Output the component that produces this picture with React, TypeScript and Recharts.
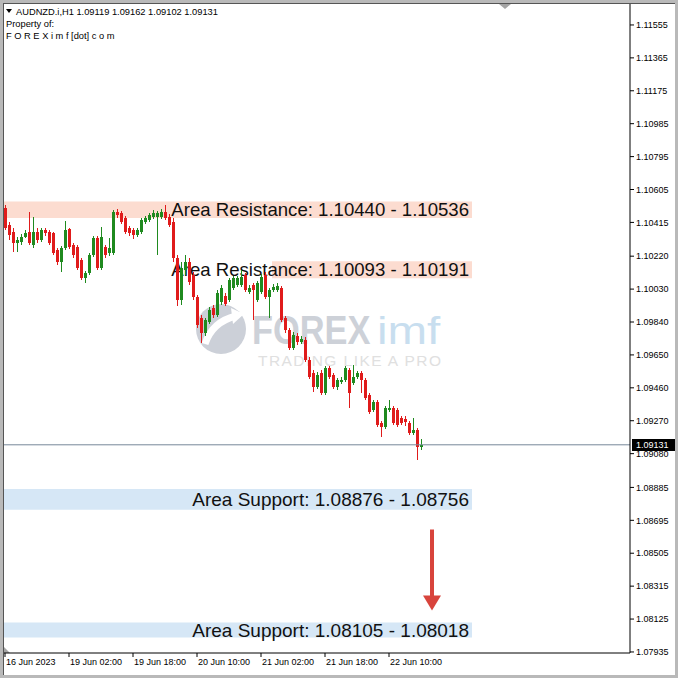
import React from "react";
import {
  ComposedChart,
  Bar,
  XAxis,
  YAxis,
  ReferenceArea,
  ReferenceLine,
} from "recharts";

// AUDNZD H1, one entry per hourly bar
const barOpen = [
  1.105, 1.10402, 1.10361, 1.10298, 1.10304, 1.10333, 1.10361, 1.10286, 1.10361, 1.10315,
  1.10373, 1.10361, 1.10356, 1.10258, 1.10188, 1.10269, 1.10379, 1.10286, 1.10275, 1.102,
  1.10096, 1.10125, 1.10229, 1.10327, 1.10154, 1.10275, 1.1024, 1.1024, 1.10477, 1.10471,
  1.10442, 1.10384, 1.10373, 1.10344, 1.10361, 1.10419, 1.10431, 1.10448, 1.10448, 1.10448,
  1.10477, 1.10448, 1.10419, 1.10211, 1.09969, 1.10142, 1.10188, 1.10113, 1.09986, 1.09865,
  1.09779, 1.09842, 1.09923, 1.09882, 1.09957, 1.09992, 1.09969, 1.10038, 1.10056, 1.10056,
  1.10113, 1.10015, 1.10056, 1.09969, 1.10015, 1.10113, 1.09986, 1.10027, 1.10027, 1.10038,
  1.09865, 1.09796, 1.09692, 1.09761, 1.09727, 1.09738, 1.09623, 1.09548, 1.09467, 1.09548,
  1.09432, 1.09577, 1.09536, 1.09467, 1.09496, 1.09507, 1.09565, 1.0949, 1.09525, 1.09548,
  1.09507, 1.09421, 1.09334, 1.0938, 1.09259, 1.09236, 1.09334, 1.09346, 1.09334, 1.09288,
  1.09282, 1.09259, 1.09202, 1.09219, 1.09119,
];
const barHigh = [
  1.10517, 1.10419, 1.10384, 1.10333, 1.1035, 1.10373, 1.10477, 1.10448, 1.10384, 1.10384,
  1.10384, 1.10373, 1.10361, 1.10269, 1.10281, 1.10425, 1.10384, 1.10298, 1.10286, 1.10211,
  1.10136, 1.1024, 1.10338, 1.10338, 1.1039, 1.10286, 1.10327, 1.10488, 1.10494, 1.10483,
  1.10454, 1.10396, 1.10384, 1.10384, 1.10442, 1.10454, 1.10471, 1.10488, 1.10483, 1.10494,
  1.10517, 1.10465, 1.10442, 1.10229, 1.10188, 1.10229, 1.10211, 1.10131, 1.09998, 1.09882,
  1.09865, 1.09929, 1.0994, 1.10027, 1.10056, 1.10009, 1.10096, 1.10107, 1.10107, 1.10142,
  1.10125, 1.10056, 1.10067, 1.10079, 1.10119, 1.10131, 1.10038, 1.10061, 1.10067, 1.1005,
  1.09877, 1.09807, 1.09784, 1.09779, 1.09761, 1.09755, 1.0964, 1.09565, 1.09554, 1.09565,
  1.09588, 1.09588, 1.09548, 1.09519, 1.09525, 1.09588, 1.09577, 1.09594, 1.09559, 1.09559,
  1.09519, 1.09432, 1.09392, 1.09392, 1.09271, 1.09357, 1.09392, 1.09357, 1.09346, 1.093,
  1.09296, 1.09271, 1.09288, 1.0923, 1.09162,
];
const barLow = [
  1.10373, 1.10315, 1.10246, 1.10246, 1.10286, 1.10327, 1.10286, 1.10269, 1.10298, 1.10304,
  1.10338, 1.10286, 1.10229, 1.10171, 1.10131, 1.10258, 1.10263, 1.10211, 1.10142, 1.10084,
  1.10067, 1.10113, 1.10217, 1.10142, 1.10142, 1.10211, 1.10223, 1.10229, 1.10442, 1.10408,
  1.1035, 1.10338, 1.10321, 1.10333, 1.1035, 1.10408, 1.10419, 1.10436, 1.10229, 1.10436,
  1.10431, 1.1039, 1.10188, 1.09934, 1.0994, 1.10113, 1.10056, 1.09969, 1.09807, 1.09721,
  1.09761, 1.0983, 1.09865, 1.09871, 1.0994, 1.09934, 1.09957, 1.10027, 1.10044, 1.10044,
  1.10015, 1.10004, 1.09854, 1.09957, 1.10004, 1.09975, 1.09865, 1.10015, 1.10015, 1.09842,
  1.09779, 1.09681, 1.09681, 1.09709, 1.09715, 1.09611, 1.09513, 1.09438, 1.09455, 1.09421,
  1.09421, 1.09513, 1.09455, 1.0945, 1.09484, 1.09496, 1.09346, 1.09479, 1.09513, 1.09432,
  1.09392, 1.09311, 1.09323, 1.09236, 1.09178, 1.09225, 1.09323, 1.09248, 1.09236, 1.09248,
  1.09242, 1.0919, 1.0919, 1.09046, 1.09102,
];
const barClose = [
  1.10384, 1.10344, 1.10298, 1.10315, 1.10333, 1.10356, 1.10298, 1.10361, 1.10315, 1.10373,
  1.10356, 1.10298, 1.1024, 1.10188, 1.10269, 1.10373, 1.10275, 1.10229, 1.10154, 1.10096,
  1.10125, 1.10229, 1.10327, 1.10154, 1.10333, 1.10229, 1.10269, 1.10477, 1.10459, 1.10419,
  1.10361, 1.10356, 1.10344, 1.10373, 1.10431, 1.10442, 1.10459, 1.10471, 1.10471, 1.10477,
  1.10442, 1.10402, 1.10211, 1.09969, 1.10154, 1.10188, 1.10073, 1.09986, 1.09825, 1.09779,
  1.09854, 1.09911, 1.09882, 1.10009, 1.10038, 1.09946, 1.10084, 1.10096, 1.10096, 1.10102,
  1.10027, 1.10038, 1.10027, 1.10067, 1.10102, 1.09986, 1.10027, 1.10044, 1.1005, 1.09854,
  1.09796, 1.09692, 1.09767, 1.09727, 1.09744, 1.09623, 1.09525, 1.09467, 1.09536, 1.09432,
  1.09577, 1.09525, 1.09467, 1.09507, 1.09507, 1.09577, 1.09432, 1.09525, 1.09548, 1.09507,
  1.09404, 1.09323, 1.0938, 1.09248, 1.09236, 1.09346, 1.09346, 1.09259, 1.09248, 1.09259,
  1.09262, 1.09202, 1.09219, 1.09121, 1.09131,
];

const timeTickBars = [0, 16, 32, 48, 64, 80, 96];
const timeTickLabels = [
  "16 Jun 2023",
  "19 Jun 02:00",
  "19 Jun 18:00",
  "20 Jun 10:00",
  "21 Jun 02:00",
  "21 Jun 18:00",
  "22 Jun 10:00",
];

const priceTicks = [
  1.11555, 1.11365, 1.11175, 1.10985, 1.10795, 1.10605, 1.10415, 1.1022, 1.1003, 1.0984,
  1.0965, 1.0946, 1.0927, 1.0908, 1.08885, 1.08695, 1.08505, 1.08315, 1.08125, 1.07935,
];

const zoneLow = [1.1044, 1.10093, 1.08756, 1.08018];
const zoneHigh = [1.10536, 1.10191, 1.08876, 1.08105];
const zoneStartBar = [-0.25, 66.75, -0.25, -0.25];
const zoneEndBar = 116.75;
const zoneIsSupport = [false, false, true, true];
const zoneTitles = [
  "Area Resistance: 1.10440 - 1.10536",
  "Area Resistance: 1.10093 - 1.10191",
  "Area Support: 1.08876 - 1.08756",
  "Area Support: 1.08105 - 1.08018",
];

const symbolName = "AUDNZD.i,H1";
const lastBar = ["1.09119", "1.09162", "1.09102", "1.09131"];
const bidPrice = 1.09131;

const arrowBar = 106.75;
const arrowFrom = 1.08642;
const arrowTo = 1.08175;

const FONT = "'Liberation Sans', Arial, sans-serif";
const BULL = "#1f8a1f";
const BEAR = "#e01b1b";
const ARROW = "#d8443c";

const Candle = (props: any) => {
  const { x, y, width, height, payload } = props;
  if (!payload || !Number.isFinite(x) || !Number.isFinite(y)) return null;
  const top = Math.min(y, y + height);
  const span = Math.abs(height);
  const range = payload.high - payload.low;
  const k = range > 0 ? span / range : 0;
  const toPx = (v: number) => top + (payload.high - v) * k;
  const up = payload.close >= payload.open;
  const color = up ? BULL : BEAR;
  const cx = Math.round(x + width / 2);
  const bTop = Math.round(toPx(Math.max(payload.open, payload.close)));
  const bBot = Math.round(toPx(Math.min(payload.open, payload.close)));
  return (
    <g>
      <line
        x1={cx + 0.5}
        x2={cx + 0.5}
        y1={Math.round(top)}
        y2={Math.round(top + span)}
        stroke={color}
        strokeWidth={1}
      />
      <rect x={cx - 1} y={bTop} width={3} height={Math.max(1, bBot - bTop)} fill={color} />
    </g>
  );
};

const ZoneLabel = ({ viewBox, text, size }: any) => {
  if (!viewBox) return null;
  const { x, y, width, height } = viewBox;
  return (
    <text
      x={x + width - 3}
      y={y + height / 2}
      dy="0.36em"
      textAnchor="end"
      fontSize={size}
      fontFamily={FONT}
      fill="#111"
    >
      {text}
    </text>
  );
};

const BidTag = ({ viewBox }: any) => {
  if (!viewBox) return null;
  const { x, y, width } = viewBox;
  const left = x + width + 2;
  return (
    <g>
      <rect x={left} y={Math.round(y) - 6} width={43} height={12} fill="#000" />
      <text x={left + 4} y={y} dy="0.36em" fill="#fff" fontSize={9} fontFamily={FONT}>
        {bidPrice.toFixed(5)}
      </text>
    </g>
  );
};

const DownArrow = (props: any) => {
  const { x1, y1, x2, y2 } = props;
  if (![x1, y1, x2, y2].every(Number.isFinite)) return null;
  const head = 15;
  return (
    <g>
      <line x1={x1} y1={y1} x2={x2} y2={y2 - head + 1} stroke={ARROW} strokeWidth={4} />
      <polygon
        points={`${x2 - 9},${y2 - head} ${x2 + 9},${y2 - head} ${x2},${y2}`}
        fill={ARROW}
      />
    </g>
  );
};

const TimeTick = (props: any) => {
  const { x, y, payload } = props;
  const i = timeTickBars.indexOf(payload.value);
  return (
    <text x={x + 1} y={y} dy="0.71em" textAnchor="start" fontSize={9} fontFamily={FONT} fill="#000">
      {i >= 0 ? timeTickLabels[i] : ""}
    </text>
  );
};

function Backdrop() {
  return (
    <svg width={678} height={678} style={{ position: "absolute", left: 0, top: 0 }}>
      <rect x={0} y={0} width={678} height={678} fill="#fff" />
      {/* window frame */}
      <rect x={0} y={0} width={678} height={3} fill="#b9b9b9" />
      <rect x={0} y={0} width={3} height={678} fill="#b9b9b9" />
      <rect x={675} y={0} width={3} height={678} fill="#b9b9b9" />
      <rect x={0} y={675} width={678} height={3} fill="#b9b9b9" />
      <line x1={3} y1={3.5} x2={675} y2={3.5} stroke="#555" />
      <line x1={3.5} y1={3} x2={3.5} y2={675} stroke="#555" />
      <polygon points="499,4 511,4 505,9" fill="#a4a4a4" />
      <polygon points="4,647 4,653 10,653" fill="#a4a4a4" />

      {/* watermark */}
      <g>
        <circle cx={221} cy={329} r={25} fill="#ccd0d8" />
        <path d="M205,344 Q212,322 236,316" stroke="#fff" strokeWidth={7} fill="none" />
        <polygon points="231,308 244,314 233,324" fill="#fff" />
        <text
          transform="translate(252,344) scale(0.86,1)"
          fontSize={40}
          fontWeight="bold"
          fontFamily={FONT}
          fill="#cdd1d8"
        >
          FOREX
        </text>
        <text
          transform="translate(377,344) scale(1.25,1)"
          fontSize={38}
          fontFamily={FONT}
          fill="#c8deef"
        >
          imf
        </text>
        <text
          x={258}
          y={366}
          fontSize={15.5}
          fontFamily={FONT}
          fill="#e0e0e0"
          textLength={183}
          lengthAdjust="spacing"
        >
          TRADING LIKE A PRO
        </text>
      </g>

      {/* header */}
      <polygon points="6,9 12,9 9,13" fill="#000" />
      <text x={16} y={15} fontSize={9.3} fontFamily={FONT} fill="#000">
        {`${symbolName}  ${lastBar.join(" ")}`}
      </text>
      <text x={6} y={27} fontSize={9.3} fontFamily={FONT} fill="#000">
        Property of:
      </text>
      <text x={6} y={39} fontSize={9.3} fontFamily={FONT} fill="#000">
        F O R E X i m f [dot] c o m
      </text>
    </svg>
  );
}

export default function App() {
  const candles = barOpen.map((o, i) => ({
    idx: i,
    open: o,
    high: barHigh[i],
    low: barLow[i],
    close: barClose[i],
  }));

  return (
    <div style={{ position: "fixed", left: 0, top: 0, width: 678, height: 678, background: "#fff" }}>
      <Backdrop />
      <div style={{ position: "absolute", left: 0, top: 0 }}>
        <ComposedChart
          width={678}
          height={678}
          data={candles}
          margin={{ top: 4, right: 0, bottom: 0, left: 4 }}
        >
          <XAxis
            dataKey="idx"
            type="number"
            domain={[-0.25, 156.25]}
            ticks={timeTickBars}
            interval={0}
            allowDataOverflow
            height={25}
            axisLine={{ stroke: "#000" }}
            tickLine={{ stroke: "#000" }}
            tickSize={4}
            tick={<TimeTick />}
          />
          <YAxis
            orientation="right"
            type="number"
            domain={[1.07929, 1.11676]}
            ticks={priceTicks}
            interval={0}
            allowDataOverflow
            width={48}
            axisLine={{ stroke: "#000" }}
            tickLine={{ stroke: "#000" }}
            tickSize={4}
            tickFormatter={(v: number) => v.toFixed(5)}
            tick={{ fill: "#000", fontSize: 9, fontFamily: FONT }}
          />
          {zoneLow.map((lo, i) => (
            <ReferenceArea
              key={`zone-${i}`}
              x1={zoneStartBar[i]}
              x2={zoneEndBar}
              y1={lo}
              y2={zoneHigh[i]}
              fill={zoneIsSupport[i] ? "#d6e7f6" : "#fcdcd0"}
              fillOpacity={1}
              stroke="none"
            />
          ))}
          <ReferenceLine y={bidPrice} stroke="#778899" strokeWidth={1} label={<BidTag />} />
          <Bar
            dataKey={(d: any) => [d.low, d.high]}
            barSize={3}
            shape={<Candle />}
            isAnimationActive={false}
          />
          {zoneLow.map((lo, i) => (
            <ReferenceArea
              key={`zone-label-${i}`}
              x1={zoneStartBar[i]}
              x2={zoneEndBar}
              y1={lo}
              y2={zoneHigh[i]}
              fill="none"
              fillOpacity={0}
              stroke="none"
              label={<ZoneLabel text={zoneTitles[i]} size={zoneIsSupport[i] ? 19 : 18.6} />}
            />
          ))}
          <ReferenceLine
            segment={[
              { x: arrowBar, y: arrowFrom },
              { x: arrowBar, y: arrowTo },
            ]}
            shape={<DownArrow />}
          />
        </ComposedChart>
      </div>
    </div>
  );
}
